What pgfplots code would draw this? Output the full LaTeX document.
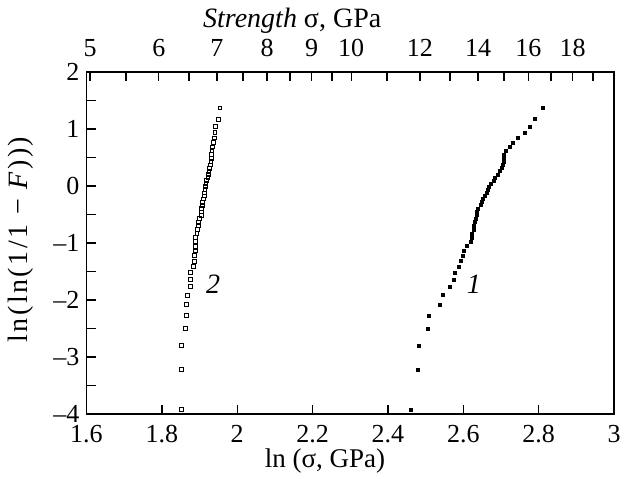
\documentclass[border=0pt]{standalone}
\usepackage{fontspec}
\setmainfont{Liberation Serif}
\usepackage{pgfplots}
\pgfplotsset{compat=1.18}

% ln(ln(1/(1-F))) against ln(sigma), F = i/51
\pgfplotstableread{
x y
2.461 -3.922
2.479 -3.219
2.482 -2.803
2.505 -2.505
2.508 -2.271
2.538 -2.078
2.546 -1.913
2.565 -1.768
2.575 -1.639
2.578 -1.522
2.588 -1.415
2.593 -1.316
2.599 -1.223
2.601 -1.137
2.610 -1.055
2.620 -0.977
2.622 -0.903
2.624 -0.832
2.628 -0.763
2.629 -0.697
2.631 -0.634
2.634 -0.572
2.636 -0.511
2.637 -0.453
2.638 -0.395
2.646 -0.338
2.649 -0.283
2.652 -0.228
2.657 -0.173
2.662 -0.120
2.665 -0.066
2.668 -0.013
2.672 0.041
2.680 0.094
2.684 0.148
2.692 0.202
2.697 0.257
2.703 0.313
2.706 0.369
2.707 0.428
2.708 0.488
2.709 0.551
2.714 0.617
2.725 0.686
2.731 0.761
2.746 0.843
2.763 0.934
2.777 1.041
2.790 1.175
2.811 1.369
}\seriesone

\pgfplotstableread{
x y
1.851 -3.922
1.851 -3.219
1.852 -2.803
1.862 -2.505
1.865 -2.271
1.866 -2.078
1.868 -1.913
1.875 -1.768
1.875 -1.639
1.876 -1.522
1.883 -1.415
1.886 -1.316
1.886 -1.223
1.888 -1.137
1.888 -1.055
1.889 -0.977
1.890 -0.903
1.893 -0.832
1.894 -0.763
1.897 -0.697
1.898 -0.634
1.900 -0.572
1.904 -0.511
1.905 -0.453
1.906 -0.395
1.907 -0.338
1.908 -0.283
1.910 -0.228
1.912 -0.173
1.913 -0.120
1.914 -0.066
1.915 -0.013
1.917 0.041
1.919 0.094
1.922 0.148
1.924 0.202
1.925 0.257
1.926 0.313
1.928 0.369
1.930 0.428
1.931 0.488
1.932 0.551
1.933 0.617
1.935 0.686
1.936 0.761
1.940 0.843
1.941 0.934
1.943 1.041
1.951 1.175
1.954 1.369
}\seriestwo

\begin{document}
\begin{tikzpicture}[font=\fontsize{13}{15.6}\selectfont]
  \pgfplotsset{
    every axis/.append style={
      scale only axis,
      width=263.75pt, height=171pt,
      xmin=1.6, xmax=3,
      ymin=-4, ymax=2,
      axis line style={line width=0.7pt},
      major tick length=4.5pt, minor tick length=4.5pt,
      every tick/.style={black, line width=0.7pt},
      tick align=inside,
      /pgf/number format/assume math mode=true,
    },
  }
  \begin{axis}[
      xtick={1.6,1.8,2,2.2,2.4,2.6,2.8,3},
      xticklabels={1.6,1.8,2,2.2,2.4,2.6,2.8,3},
      xtick pos=bottom,
      xticklabel style={yshift=-2pt},
      ytick={-4,-3,-2,-1,0,1,2},
      yticklabels={–4,–3,–2,–1,0,1,2},
      minor ytick={-3.5,-2.5,-1.5,-0.5,0.5,1.5},
      ytick pos=left,
      xlabel={ln (σ, GPa)},
      ylabel={ln(ln(1/1 − \textit{F})))},
      every axis x label/.style={at={(ticklabel cs:0.452)}, anchor=near ticklabel},
      every axis y label/.style={at={(ticklabel cs:0.51)}, rotate=90, anchor=near ticklabel},
      xlabel style={yshift=4pt, font=\fontsize{13.5}{16}\selectfont},
      ylabel style={yshift=3pt, font=\fontsize{14}{17}\selectfont\addfontfeature{LetterSpace=9}},
      clip=false,
    ]
    \addplot[only marks, mark=square*, mark size=0.75pt, black] table {\seriesone};
    \addplot[only marks, mark=square, mark size=0.95pt, black,
             mark options={line width=0.4pt}] table {\seriestwo};
    \node[font=\fontsize{14}{16}\selectfont\itshape] at (axis cs:1.936,-1.72) {2};
    \node[font=\fontsize{14}{16}\selectfont\itshape] at (axis cs:2.628,-1.72) {1};
    \coordinate (ll) at (rel axis cs:0,0);
    \coordinate (ur) at (rel axis cs:1,1);
  \end{axis}
  \begin{axis}[
      axis x line*=top,
      hide y axis,
      xtick={1.609438,1.791759,1.945910,2.079442,2.197225,2.302585,2.484907,2.639057,2.772589,2.890372},
      xticklabels={5,6,7,8,9,10,12,14,16,18},
      minor xtick={1.704748,1.871802,2.014903,2.140066,2.251292,2.397895,2.564949,2.708050,2.833213,2.944439},
      xticklabel style={yshift=4pt},
      xlabel={\textit{Strength} σ, GPa},
      every axis x label/.style={at={(ticklabel cs:0.39)}, anchor=near ticklabel},
      xlabel style={yshift=-4pt, font=\fontsize{14}{17}\selectfont},
    ]
  \end{axis}
  \pgfresetboundingbox
  \path[use as bounding box] ([shift={(-43.25pt,-32.5pt)}]ll) rectangle ([shift={(8pt,36pt)}]ur);
\end{tikzpicture}
\end{document}
